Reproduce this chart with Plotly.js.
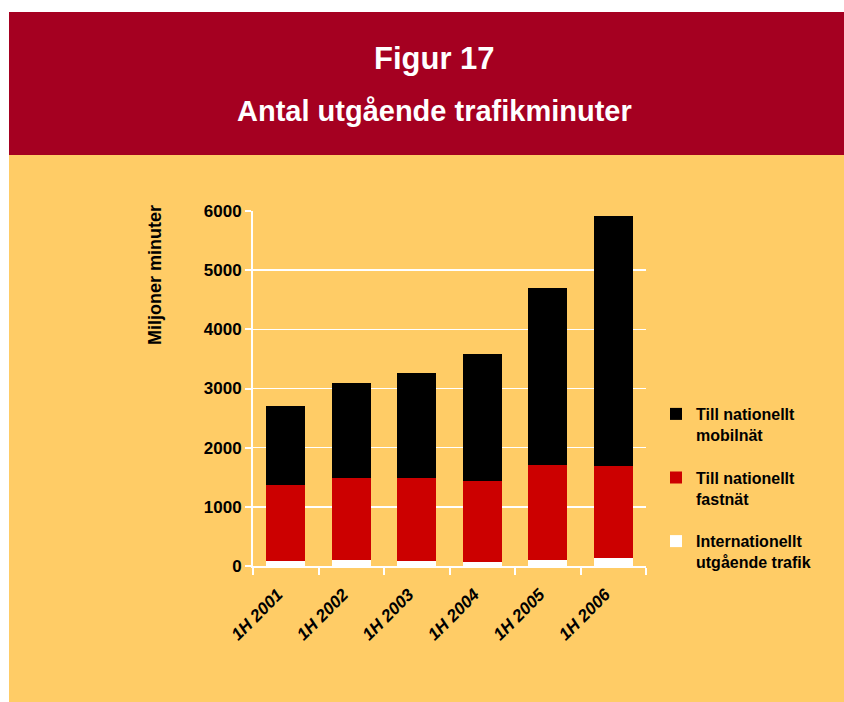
<!DOCTYPE html>
<html>
<head>
<meta charset="utf-8">
<script src="https://cdn.plot.ly/plotly-3.0.1.min.js"></script>
<style>html,body{margin:0;padding:0;background:#fff;}#chart{width:844px;height:702px;}</style>
</head>
<body>
<div id="chart"></div>
<script>
var categories = ["1H 2001", "1H 2002", "1H 2003", "1H 2004", "1H 2005", "1H 2006"];
var internationellt = [90, 100, 80, 75, 100, 135];
var fastnat = [1280, 1390, 1410, 1355, 1600, 1560];
var mobilnat = [1330, 1600, 1770, 2150, 3000, 4215];
var seriesNames = ["Internationellt<br>utgående trafik", "Till nationellt<br>fastnät", "Till nationellt<br>mobilnät"];
var yTicks = [0, 1000, 2000, 3000, 4000, 5000, 6000];

var FONT = "Arial, 'Liberation Sans', sans-serif";
var L = 253, R = 646, T = 211, B = 566, W = 844, H = 702;
function px(x) { return (x - L) / (R - L); }
function py(y) { return (B - y) / (B - T); }

var traces = [
  {type: "bar", name: seriesNames[0], x: categories, y: internationellt, marker: {color: "#FFFFFF"}, legendgroup: "a", legendrank: 3},
  {type: "bar", name: seriesNames[1], x: categories, y: fastnat, marker: {color: "#CC0000"}, legendgroup: "b", legendrank: 2},
  {type: "bar", name: seriesNames[2], x: categories, y: mobilnat, marker: {color: "#000000"}, legendgroup: "c", legendrank: 1}
];

var layout = {
  width: W, height: H,
  margin: {l: L, r: W - R, t: T, b: H - B, pad: 0},
  paper_bgcolor: "#FFFFFF",
  plot_bgcolor: "rgba(0,0,0,0)",
  barmode: "stack",
  bargap: 0.4,
  font: {family: FONT, color: "#000"},
  showlegend: true,
  legend: {
    x: px(656), y: py(397), xanchor: "left", yanchor: "top",
    traceorder: "grouped", tracegroupgap: 19,
    valign: "top",
    bgcolor: "rgba(0,0,0,0)",
    font: {family: FONT, size: 16, weight: "bold", color: "#000"}
  },
  xaxis: {
    type: "category",
    showline: true, linecolor: "#FFFFFF", linewidth: 2,
    ticks: "outside", tickson: "boundaries", ticklen: 7, tickwidth: 2, tickcolor: "#FFFFFF",
    tickangle: -45,
    ticklabelshift: -8, ticklabelstandoff: 10,
    tickfont: {family: FONT, size: 17, weight: "bold", style: "italic", color: "#000"},
    showgrid: false, zeroline: false, fixedrange: true
  },
  yaxis: {
    range: [0, 6000],
    tickvals: yTicks,
    ticktext: yTicks.map(String),
    showline: true, linecolor: "#FFFFFF", linewidth: 2,
    ticks: "outside", ticklen: 6, tickwidth: 2, tickcolor: "#FFFFFF",
    tickfont: {family: FONT, size: 17, weight: "bold", color: "#000"},
    showgrid: true, gridcolor: "#FFFFFF", gridwidth: 1.5,
    zeroline: false, fixedrange: true
  },
  shapes: [
    {type: "rect", xref: "paper", yref: "paper", x0: px(9), x1: px(844), y0: py(702), y1: py(155),
     fillcolor: "#FFCC66", line: {width: 0}, layer: "below"},
    {type: "rect", xref: "paper", yref: "paper", x0: px(9), x1: px(844), y0: py(155), y1: py(12),
     fillcolor: "#A50021", line: {width: 0}, layer: "below"}
  ],
  annotations: [
    {text: "Figur 17", xref: "paper", yref: "paper", x: px(434), y: py(58.5), xanchor: "center", yanchor: "middle",
     showarrow: false, font: {family: FONT, size: 31, weight: "bold", color: "#FFFFFF"}},
    {text: "Antal utgående trafikminuter", xref: "paper", yref: "paper", x: px(434), y: py(111), xanchor: "center", yanchor: "middle",
     showarrow: false, font: {family: FONT, size: 29, weight: "bold", color: "#FFFFFF"}},
    {text: "Miljoner minuter", xref: "paper", yref: "paper", x: px(155), y: py(275), xanchor: "center", yanchor: "middle",
     textangle: -90, showarrow: false, font: {family: FONT, size: 18, weight: "bold", color: "#000"}}
  ]
};

Plotly.newPlot("chart", traces, layout, {displayModeBar: false, staticPlot: true});
</script>
</body>
</html>
